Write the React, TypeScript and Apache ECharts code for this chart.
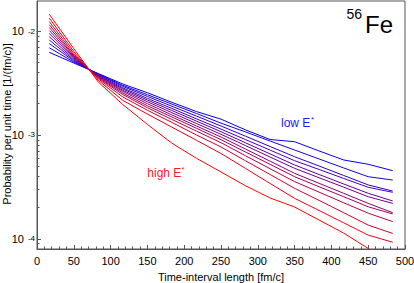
import React, { useEffect, useRef } from 'react';
import * as echarts from 'echarts';

// Time-interval bin centres [fm/c]
const TIMES = [16.7, 50, 83.3, 116.7, 150, 183.3, 216.7, 250, 283.3, 316.7, 350, 383.3, 416.7, 450, 483.3];

// Probability per unit time [1/(fm/c)], from low E* (blue) to high E* (red)
const P_E01 = [6.24e-3, 4.92e-3, 3.90e-3, 3.09e-3, 2.55e-3, 2.06e-3, 1.68e-3, 1.42e-3, 1.12e-3, 9.05e-4, 8.62e-4, 7.02e-4, 5.75e-4, 5.23e-4, 4.54e-4];
const P_E02 = [6.90e-3, 5.03e-3, 3.86e-3, 3.00e-3, 2.44e-3, 1.98e-3, 1.61e-3, 1.30e-3, 1.07e-3, 8.75e-4, 7.17e-4, 5.88e-4, 4.82e-4, 3.97e-4, 3.69e-4];
const P_E03 = [7.57e-3, 5.15e-3, 3.82e-3, 2.93e-3, 2.35e-3, 1.89e-3, 1.52e-3, 1.22e-3, 9.74e-4, 7.75e-4, 6.18e-4, 5.03e-4, 4.08e-4, 3.31e-4, 2.89e-4];
const P_E04 = [8.19e-3, 5.26e-3, 3.77e-3, 2.84e-3, 2.25e-3, 1.80e-3, 1.43e-3, 1.14e-3, 9.03e-4, 7.16e-4, 5.66e-4, 4.66e-4, 3.82e-4, 3.14e-4, 2.81e-4];
const P_E05 = [8.81e-3, 5.38e-3, 3.73e-3, 2.77e-3, 2.17e-3, 1.72e-3, 1.36e-3, 1.076e-3, 8.41e-4, 6.58e-4, 5.15e-4, 4.17e-4, 3.38e-4, 2.75e-4, 2.32e-4];
const P_E06 = [9.46e-3, 5.50e-3, 3.69e-3, 2.69e-3, 2.09e-3, 1.64e-3, 1.29e-3, 1.016e-3, 7.91e-4, 6.14e-4, 4.78e-4, 3.88e-4, 3.15e-4, 2.55e-4, 2.20e-4];
const P_E07 = [1.011e-2, 5.62e-3, 3.64e-3, 2.62e-3, 2.00e-3, 1.56e-3, 1.22e-3, 9.57e-4, 7.32e-4, 5.60e-4, 4.28e-4, 3.43e-4, 2.75e-4, 2.20e-4, 1.79e-4];
const P_E08 = [1.08e-2, 5.75e-3, 3.59e-3, 2.53e-3, 1.91e-3, 1.49e-3, 1.16e-3, 9.01e-4, 6.86e-4, 5.22e-4, 3.97e-4, 3.18e-4, 2.55e-4, 2.04e-4, 1.74e-4];
const P_E09 = [1.15e-2, 5.88e-3, 3.53e-3, 2.45e-3, 1.83e-3, 1.41e-3, 1.09e-3, 8.43e-4, 6.32e-4, 4.74e-4, 3.56e-4, 2.82e-4, 2.23e-4, 1.77e-4, 1.47e-4];
const P_E10 = [1.23e-2, 6.08e-3, 3.46e-3, 2.32e-3, 1.73e-3, 1.32e-3, 1.00e-3, 7.67e-4, 5.65e-4, 4.17e-4, 3.07e-4, 2.35e-4, 1.79e-4, 1.36e-4, 1.13e-4];
const P_E11 = [1.33e-2, 6.35e-3, 3.36e-3, 2.15e-3, 1.59e-3, 1.19e-3, 8.89e-4, 6.64e-4, 4.77e-4, 3.42e-4, 2.46e-4, 1.88e-4, 1.43e-4, 1.09e-4, 9.30e-5];
const P_E12 = [1.45e-2, 6.77e-3, 3.23e-3, 1.96e-3, 1.265e-3, 8.34e-4, 5.97e-4, 4.41e-4, 3.25e-4, 2.48e-4, 2.03e-4, 1.52e-4, 1.14e-4, 8.1e-5, 5.62e-5];

const CURVES = [P_E01, P_E02, P_E03, P_E04, P_E05, P_E06, P_E07, P_E08, P_E09, P_E10, P_E11, P_E12];
const COLORS = ['#0000ff', '#1700e8', '#2e00d1', '#4600ba', '#5d00a2', '#74008b', '#8b0074', '#a2005d', '#ba0046', '#d1002e', '#e80017', '#ff0000'];

// axis settings
const X_TICKS = [0, 50, 100, 150, 200, 250, 300, 350, 400, 450, 500];
const Y_MAJOR = [1e-4, 1e-3, 1e-2];
const Y_MINOR = [9e-5, 2e-4, 3e-4, 4e-4, 5e-4, 6e-4, 7e-4, 8e-4, 9e-4, 2e-3, 3e-3, 4e-3, 5e-3, 6e-3, 7e-3, 8e-3, 9e-3];
const Y_MIN_VAL = 8.01e-5;
const Y_MAX_VAL = 1.944e-2;

const FONT = '"Liberation Sans", Arial, Helvetica, sans-serif';
const AXIS_COLOR = '#555';

export default function App() {
  const ref = useRef<HTMLDivElement>(null);
  useEffect(() => {
    if (!ref.current) return;
    const chart = echarts.init(ref.current, null, { renderer: 'svg' });
    const lg = (v: number) => Math.log10(v);
    const yMin = lg(Y_MIN_VAL);
    const yMax = lg(Y_MAX_VAL);

    const series = CURVES.map((vals, i) => ({
      type: 'line',
      name: 'E' + (i + 1),
      data: TIMES.map((t, j) => [t, lg(vals[j])]),
      symbol: 'none',
      showSymbol: false,
      clip: true,
      silent: true,
      lineStyle: { width: 1, color: COLORS[i] },
      itemStyle: { color: COLORS[i] },
      z: 3,
    }));

    const txt = (text: string, x: number, y: number, size: number, fill: string, align = 'left', rotation = 0) => ({
      type: 'text', x, y, rotation, silent: true,
      style: { text, fontSize: size, fontFamily: FONT, fill, align, verticalAlign: 'middle' },
    });

    chart.setOption({
      animation: false,
      grid: {
        left: 37, top: 1, width: 368, height: 248,
        outerBoundsMode: 'none', containLabel: false,
        show: true, borderColor: AXIS_COLOR, borderWidth: 1, backgroundColor: 'transparent',
      },
      xAxis: {
        type: 'value', min: X_TICKS[0], max: X_TICKS[X_TICKS.length - 1], interval: 50,
        axisLine: { show: true, lineStyle: { color: AXIS_COLOR, width: 1 } },
        axisTick: { show: true, inside: true, length: 4, lineStyle: { color: AXIS_COLOR } },
        minorTick: { show: true, splitNumber: 5, length: 2.5, lineStyle: { color: AXIS_COLOR } },
        splitLine: { show: false },
        axisLabel: { fontSize: 11, color: '#000', margin: 6, fontFamily: FONT },
        name: 'Time-interval length [fm/c]',
        nameLocation: 'middle', nameGap: 22,
        nameTextStyle: { fontSize: 11, color: '#000', fontFamily: FONT },
      },
      yAxis: [
        {
          type: 'value', min: yMin, max: yMax, position: 'left',
          axisLine: { show: true, lineStyle: { color: AXIS_COLOR, width: 1 } },
          axisTick: { show: true, inside: true, length: 4, lineStyle: { color: AXIS_COLOR }, customValues: Y_MAJOR.map(lg) },
          splitLine: { show: false },
          axisLabel: {
            show: true, margin: 13, customValues: Y_MAJOR.map(lg),
            formatter: () => '10',
            fontSize: 11, color: '#000', fontFamily: FONT,
          },
        },
        {
          type: 'value', min: yMin, max: yMax, position: 'left', offset: 0,
          axisLine: { show: false },
          axisTick: { show: true, inside: true, length: 2.5, lineStyle: { color: AXIS_COLOR }, customValues: Y_MINOR.map(lg) },
          axisLabel: { show: false },
          splitLine: { show: false },
        },
        {
          type: 'value', min: yMin, max: yMax, position: 'left', offset: 0,
          axisLine: { show: false },
          axisTick: { show: false },
          splitLine: { show: false },
          axisLabel: {
            show: true, margin: 2, customValues: Y_MAJOR.map(lg),
            formatter: (v: number) => String(Math.round(v)),
            fontSize: 8, color: '#000', fontFamily: FONT,
            padding: [0, 0, 15, 0],
          },
        },
      ],
      series,
      graphic: [
        txt('Probability per unit time [1/(fm/c)]', 6.5, 124, 11, '#000', 'center', Math.PI / 2),
        txt('Fe', 365, 24, 24, '#000'),
        txt('56', 362, 13.5, 14, '#000', 'right'),
        txt('low E', 281, 123, 12, '#1a1aff'),
        txt('*', 311, 119.5, 8, '#1a1aff'),
        txt('high E', 147.3, 173.3, 12, '#ff1a1a'),
        txt('*', 181.5, 169.5, 8, '#ff1a1a'),
      ],
    });
    return () => chart.dispose();
  }, []);
  return (
    <div
      ref={ref}
      style={{ position: 'fixed', left: 0, top: 0, width: 414, height: 283, background: '#fff' }}
    />
  );
}
